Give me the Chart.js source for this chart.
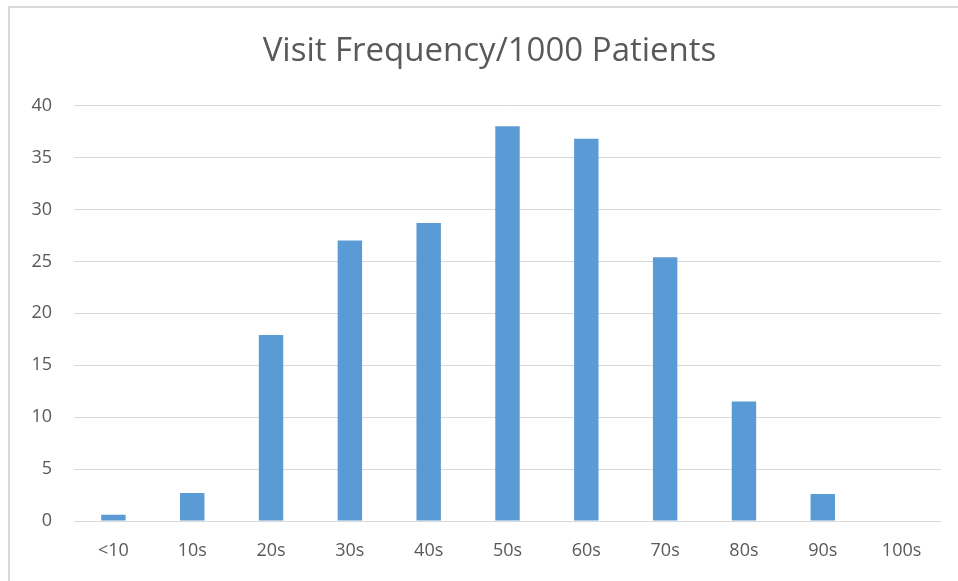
<!DOCTYPE html>
<html>
<head>
<meta charset="utf-8">
<script src="https://cdn.jsdelivr.net/npm/chart.js@4/dist/chart.umd.min.js"></script>
<style>
  html, body { margin: 0; padding: 0; background: #ffffff; }
  #wrap { position: relative; width: 958px; height: 581px; overflow: hidden; }
  #frame { position: absolute; left: 8px; top: 6px; width: 960px; height: 590px;
           border-left: 2px solid #d9d9d9; border-top: 2px solid #d9d9d9; box-sizing: border-box; }
  canvas { position: absolute; left: 0; top: 0; }
</style>
</head>
<body>
<div id="wrap">
  <div id="frame"></div>
  <canvas id="c" width="958" height="581"></canvas>
</div>
<script>
// Age groups and visit counts per 1000 patients
const ageGroups = ['<10', '10s', '20s', '30s', '40s', '50s', '60s', '70s', '80s', '90s', '100s'];
const visitsPer1000 = [0.6, 2.7, 17.9, 27.0, 28.7, 38.0, 36.8, 25.4, 11.5, 2.6, 0];
const yTicks = [0, 5, 10, 15, 20, 25, 30, 35, 40];

const FONT = "'Open Sans', 'Liberation Sans', sans-serif";
const TEXT = '#595959';
const GRID = '#d9d9d9';

new Chart(document.getElementById('c'), {
  type: 'bar',
  data: {
    labels: ageGroups,
    datasets: [{
      data: visitsPer1000,
      backgroundColor: '#5b9bd5',
      borderWidth: 0,
      categoryPercentage: 1,
      barPercentage: 0.31
    }]
  },
  options: {
    responsive: false,
    animation: false,
    layout: { padding: { left: 38, right: 17, top: 0, bottom: 0 } },
    plugins: {
      legend: { display: false },
      tooltip: { enabled: false },
      title: {
        display: true,
        text: 'Visit Frequency/1000 Patients',
        color: TEXT,
        font: { family: FONT, size: 33, weight: 'normal' },
        padding: { top: 32, bottom: 34 }
      }
    },
    scales: {
      x: {
        grid: { display: false, drawTicks: false },
        border: { display: false },
        ticks: { color: TEXT, font: { family: FONT, size: 18 }, padding: 19, maxRotation: 0 },
        afterFit: (s) => { s.height = 60; }
      },
      y: {
        min: 0,
        max: 40,
        afterBuildTicks: (s) => { s.ticks = yTicks.map(v => ({ value: v })); },
        grid: { color: GRID, lineWidth: 1, drawTicks: false },
        border: { display: false },
        ticks: { color: TEXT, font: { family: FONT, size: 18 }, padding: 22 },
        afterFit: (s) => {
          s.width = 36;
          // let the tick labels extend past the narrow axis box
          s._computeLabelArea = () => undefined;
        }
      }
    }
  }
});
</script>
</body>
</html>
